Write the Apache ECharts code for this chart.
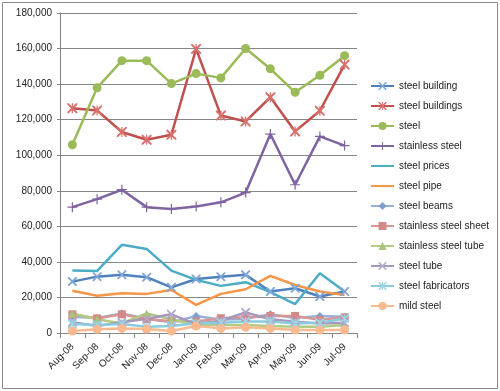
<!DOCTYPE html>
<html><head><meta charset="utf-8">
<script src="https://cdn.jsdelivr.net/npm/echarts@6/dist/echarts.min.js"></script>
<style>html,body{margin:0;padding:0;background:#fff;}#c{width:500px;height:391px;}</style>
</head><body><div id="c"></div>
<script>
var categories = ['Aug-08','Sep-08','Oct-08','Nov-08','Dec-08','Jan-09','Feb-09','Mar-09','Apr-09','May-09','Jun-09','Jul-09'];
var steelBuilding = [28900, 31700, 32800, 31400, 25700, 30400, 31700, 32700, 23300, 25200, 20500, 23300];
var steelBuildings = [126400, 125200, 113100, 108700, 111500, 159800, 122300, 119000, 132600, 113400, 125000, 151000];
var steel = [105900, 137900, 153200, 153200, 140300, 145900, 143500, 160000, 148600, 135400, 145000, 156000];
var stainlessSteel = [70800, 75300, 80600, 70800, 69700, 71200, 73500, 79000, 111900, 83400, 110600, 105400];
var steelPrices = [35100, 34900, 49600, 47300, 35100, 29900, 26500, 28600, 23000, 16300, 33600, 23300];
var steelPipe = [23800, 21000, 22400, 22000, 24200, 15800, 22000, 24600, 32100, 27000, 23300, 21400];
var steelBeams = [9200, 8500, 11000, 8000, 6000, 9500, 7500, 8000, 10500, 8500, 9500, 9200];
var stainlessSteelSheet = [10500, 8200, 10500, 7700, 6700, 6500, 8300, 8800, 9600, 9600, 7400, 8800];
var stainlessSteelTube = [11000, 7700, 5400, 11000, 7700, 4500, 4500, 4500, 3900, 3500, 3500, 4500];
var steelTube = [6000, 4000, 6000, 8000, 10500, 5000, 6900, 11600, 7700, 6400, 5400, 5800];
var steelFabricators = [5000, 4500, 5000, 3500, 4000, 5500, 5800, 6400, 6400, 5400, 5800, 8200];
var mildSteel = [1100, 2100, 2600, 2200, 1100, 3900, 2600, 3200, 2600, 1700, 1700, 1700];
var yTicks = [0, 20000, 40000, 60000, 80000, 100000, 120000, 140000, 160000, 180000];

var X = 'path://M0,0 L1.4,0 L5,3.6 L8.6,0 L10,0 L10,1.4 L6.4,5 L10,8.6 L10,10 L8.6,10 L5,6.4 L1.4,10 L0,10 L0,8.6 L3.6,5 L0,1.4 Z';
var PLUS = 'path://M4.4,0 H5.6 V4.4 H10 V5.6 H5.6 V10 H4.4 V5.6 H0 V4.4 H4.4 Z';
var AST = 'path://M0,0 L1.4,0 L5,3.6 L8.6,0 L10,0 L10,1.4 L6.4,5 L10,8.6 L10,10 L8.6,10 L5,6.4 L1.4,10 L0,10 L0,8.6 L3.6,5 L0,1.4 Z M4.4,0 H5.6 V10 H4.4 Z';

function s(name, data, color, symbol, size, mcolor) {
  return {
    name: name, type: 'line', data: data,
    symbol: symbol || 'none', symbolSize: size || 0, showSymbol: !!symbol,
    lineStyle: {color: color, width: 2.5},
    itemStyle: {color: mcolor || color},
    emphasis: {disabled: true}, animation: false
  };
}
var series = [
  s('steel building', steelBuilding, '#4F81BD', X, 9, '#7FA6D8'),
  s('steel buildings', steelBuildings, '#C0504D', AST, 10, '#D8706C'),
  s('steel', steel, '#9BBB59', 'circle', 9),
  s('stainless steel', stainlessSteel, '#8064A2', PLUS, 10),
  s('steel prices', steelPrices, '#4BACC6'),
  s('steel pipe', steelPipe, '#F79646'),
  s('steel beams', steelBeams, '#95B3D7', 'diamond', 8, '#7F9FD0'),
  s('stainless steel sheet', stainlessSteelSheet, '#D99694', 'rect', 8, '#D28A88'),
  s('stainless steel tube', stainlessSteelTube, '#B3CC82', 'triangle', 8, '#A8C576'),
  s('steel tube', steelTube, '#A598BD', X, 9, '#B2A7CC'),
  s('steel fabricators', steelFabricators, '#8ACCDE', AST, 9, '#9AD5E5'),
  s('mild steel', mildSteel, '#FAB98E', 'circle', 9)
];

var legendData = series.map(function(x){
  if (x.symbol === 'none') return {name: x.name, itemStyle: {opacity: 0}};
  return {name: x.name};
});

var chart = echarts.init(document.getElementById('c'), null, {renderer: 'canvas'});
chart.setOption({
  animation: false,
  backgroundColor: '#fff',
  grid: {left: 60, right: 143, top: 13, bottom: 58, containLabel: false},
  graphic: [{type: 'rect', shape: {x: 2.5, y: 2.5, width: 495, height: 386}, style: {fill: 'none', stroke: '#8a8a8a', lineWidth: 1}, silent: true}],
  legend: {
    orient: 'vertical', left: 370, top: 81, padding: 0, itemWidth: 23, itemHeight: 10, itemGap: 10,
    textStyle: {fontFamily: 'Liberation Sans', fontSize: 10, color: '#222'},
    data: legendData
  },
  xAxis: {
    type: 'category', data: categories, boundaryGap: true,
    axisLine: {lineStyle: {color: '#868686', width: 1}},
    axisTick: {show: true, length: 5, interval: 0, lineStyle: {color: '#868686'}},
    axisLabel: {rotate: 45, interval: 0, fontFamily: 'Liberation Sans', fontSize: 10, color: '#222', margin: 12},
    splitLine: {show: false}
  },
  yAxis: {
    type: 'value', min: 0, max: 180000, interval: 20000,
    axisLine: {show: true, lineStyle: {color: '#868686', width: 1}},
    axisTick: {show: true, length: 3, lineStyle: {color: '#868686'}},
    axisLabel: {fontFamily: 'Liberation Sans', fontSize: 10, color: '#222', margin: 8,
      formatter: function(v){ return yTicks.indexOf(v) >= 0 ? v.toLocaleString('en-US') : ''; }},
    splitLine: {show: true, lineStyle: {color: '#868686', width: 1}}
  },
  series: series
});
</script></body></html>
